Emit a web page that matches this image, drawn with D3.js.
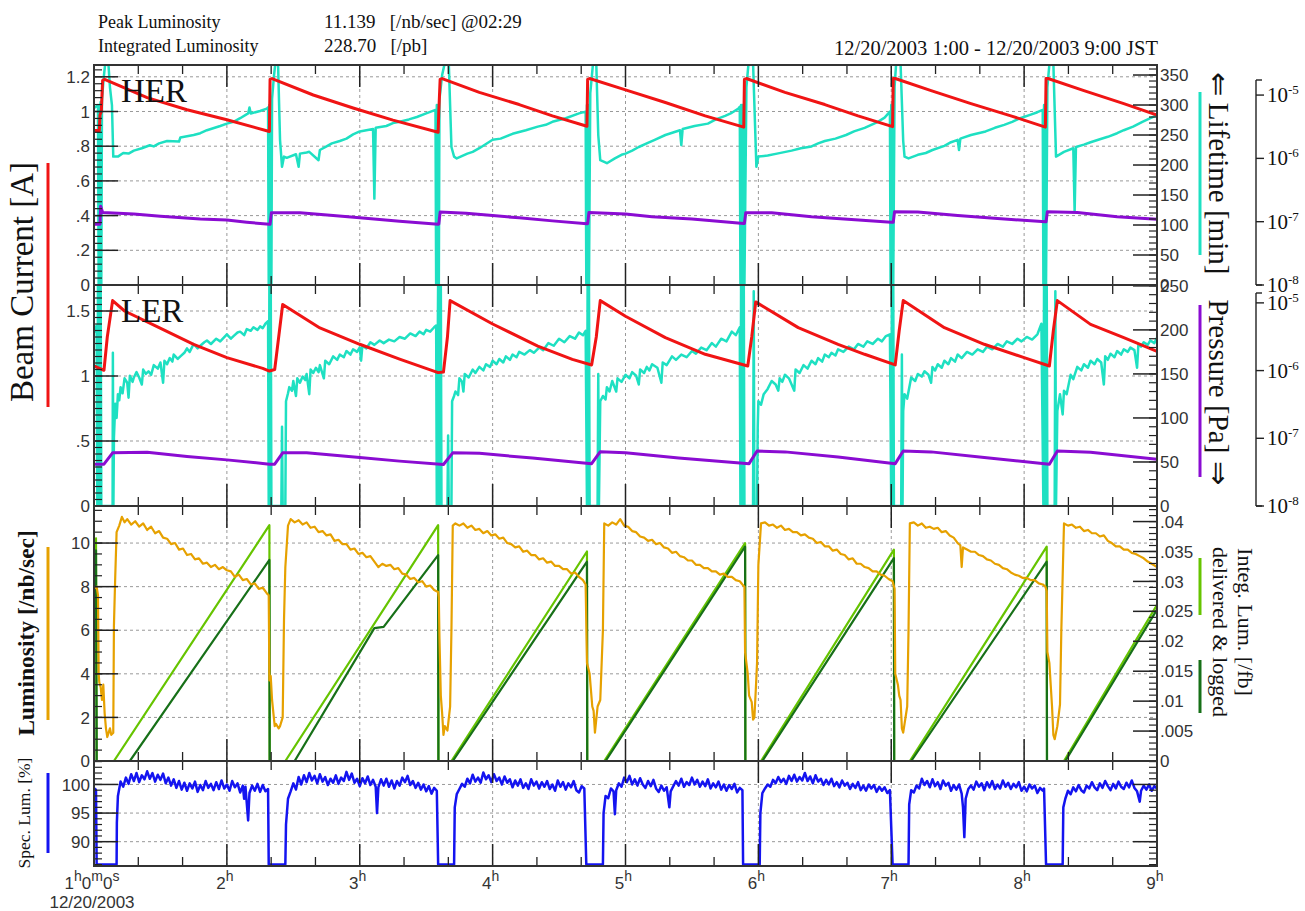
<!DOCTYPE html>
<html>
<head>
<meta charset="utf-8">
<script src="https://cdn.jsdelivr.net/npm/d3@7"></script>
<style>
body{margin:0;background:#fff;}
svg{display:block;}
.tl{font-family:"Liberation Sans",Arial,sans-serif;font-size:17px;fill:#333;}
.serif{font-family:"Liberation Serif","Times New Roman",serif;fill:#111;}
</style>
</head>
<body>
<svg id="chart" width="1305" height="911"></svg>
<script>
// ---- data (hour of day, value) ----
var hourTicks = [1,2,3,4,5,6,7,8,9];
var hourLabels = ["1h0m0s","2h","3h","4h","5h","6h","7h","8h","9h"];

var herCurrentTicks = [0,0.2,0.4,0.6,0.8,1,1.2];
var herLifetimeTicks = [0,50,100,150,200,250,300,350];
var lerCurrentTicks = [0,0.5,1,1.5];
var lerLifetimeTicks = [0,50,100,150,200,250];
var pressureTicks = [1e-8,1e-7,1e-6,1e-5];
var lumTicks = [0,2,4,6,8,10];
var integTicks = [0,0.005,0.01,0.015,0.02,0.025,0.03,0.035,0.04];
var specTicks = [90,95,100];

var herCurrent = [[1.0,0.89],[1.04,0.89],[1.045,0.98],[1.055,1.0],[1.065,1.18],[1.08,1.185],
 [1.4,1.08],[1.7,1.01],[2.0,0.952],[2.32,0.885],
 [2.325,1.185],[2.34,1.19],[2.65,1.095],[2.95,1.02],[3.25,0.95],[3.59,0.88],
 [3.595,1.0],[3.605,1.185],[3.62,1.19],[3.9,1.11],[4.2,1.04],[4.45,0.975],[4.71,0.915],
 [4.715,1.185],[4.73,1.19],[5.0,1.125],[5.3,1.052],[5.6,0.975],[5.89,0.91],
 [5.895,1.185],[5.91,1.19],[6.2,1.11],[6.5,1.04],[6.75,0.975],[7.01,0.913],
 [7.015,1.19],[7.03,1.19],[7.3,1.12],[7.6,1.045],[7.9,0.975],[8.16,0.91],
 [8.165,1.19],[8.18,1.19],[8.45,1.12],[8.75,1.045],[9.0,0.98]];

var herLifetime = [[1.0,295],[1.02,298],[1.03,300],[1.035,0],[1.04,300],[1.045,0],[1.05,305],[1.055,0],[1.06,310],
 [1.075,350],[1.09,380],[1.105,380],[1.12,330],[1.135,300],[1.145,214],[1.18,214],[1.22,220],[1.26,219],[1.3,224],
 [1.36,228],[1.42,233],[1.45,231],[1.49,236],[1.55,240],[1.64,239],[1.65,246],[1.75,250],[1.8,253],[1.85,258],
 [1.95,265],[2.0,269],[2.05,272],[2.1,278],[2.16,286],[2.17,296],[2.18,286],[2.25,290],[2.3,294],
 [2.31,296],[2.315,0],[2.32,300],[2.325,0],[2.33,300],[2.335,0],[2.34,310],[2.355,350],[2.37,380],[2.385,370],
 [2.40,242],[2.415,197],[2.43,214],[2.45,212],[2.52,218],[2.54,197],[2.55,219],[2.6,221],[2.62,222],[2.69,208],
 [2.70,225],[2.75,231],[2.79,236],[2.85,240],[2.9,244],[2.95,251],[3.0,256],[3.1,260],[3.11,144],[3.12,262],
 [3.2,265],[3.25,270],[3.3,272],[3.37,276],[3.43,280],[3.5,286],[3.57,292],
 [3.575,0],[3.58,300],[3.585,0],[3.59,300],[3.595,0],[3.6,310],[3.62,350],[3.65,380],[3.67,370],[3.69,230],
 [3.71,214],[3.73,211],[3.81,219],[3.85,222],[3.9,228],[3.95,235],[4.0,242],[4.06,244],[4.15,252],[4.25,258],
 [4.34,264],[4.4,267],[4.45,272],[4.55,278],[4.65,286],[4.7,289],
 [4.705,0],[4.71,300],[4.715,0],[4.72,300],[4.725,0],[4.735,320],[4.76,380],[4.78,370],[4.795,250],[4.81,208],
 [4.86,203],[4.92,211],[4.97,217],[5.0,219],[5.05,224],[5.1,230],[5.16,236],[5.22,242],[5.3,250],[5.41,258],
 [5.42,233],[5.43,260],[5.52,265],[5.62,269],[5.68,276],[5.75,282],[5.8,287],[5.85,294],[5.86,297],
 [5.865,0],[5.87,300],[5.875,0],[5.88,300],[5.885,0],[5.89,300],[5.895,0],[5.91,330],[5.93,380],[5.96,370],
 [5.985,197],[6.0,214],[6.07,216],[6.14,219],[6.25,224],[6.32,228],[6.4,231],[6.45,236],[6.5,240],[6.58,244],
 [6.66,250],[6.72,256],[6.8,262],[6.9,272],[6.95,279],[6.99,289],
 [6.995,0],[7.0,300],[7.005,0],[7.01,300],[7.015,0],[7.025,330],[7.04,380],[7.07,370],[7.09,240],[7.1,214],
 [7.13,211],[7.2,217],[7.26,220],[7.31,225],[7.4,232],[7.45,238],[7.5,242],[7.51,225],[7.52,244],[7.6,250],
 [7.71,256],[7.78,262],[7.85,267],[7.91,272],[7.97,278],[8.05,284],[8.1,288],[8.14,292],
 [8.145,0],[8.15,300],[8.155,0],[8.16,300],[8.165,0],[8.175,330],[8.195,380],[8.22,370],[8.24,214],[8.3,222],
 [8.37,228],[8.38,122],[8.39,230],[8.45,234],[8.5,238],[8.57,243],[8.63,247],[8.7,253],[8.75,258],[8.82,264],
 [8.89,272],[8.95,278],[9.0,283]];

var herPressure = [[1.0,9.1e-8],[1.045,9.1e-8],[1.05,1.75e-7],[1.065,1.4e-7],[1.3,1.32e-7],[1.5,1.22e-7],
 [1.8,1.1e-7],[2.0,1.06e-7],[2.15,9.8e-8],[2.32,9.1e-8],
 [2.325,9.1e-8],[2.335,1.38e-7],[2.55,1.38e-7],[2.8,1.25e-7],[3.0,1.15e-7],[3.3,1.02e-7],[3.59,9.1e-8],
 [3.595,9.2e-8],[3.605,1.42e-7],[3.8,1.36e-7],[4.0,1.25e-7],[4.2,1.15e-7],[4.45,1.03e-7],[4.71,9.3e-8],
 [4.715,9.3e-8],[4.725,1.4e-7],[5.0,1.32e-7],[5.2,1.2e-7],[5.5,1.1e-7],[5.89,9.4e-8],
 [5.895,9.4e-8],[5.905,1.39e-7],[6.1,1.38e-7],[6.4,1.2e-7],[6.7,1.08e-7],[7.0,9.8e-8],
 [7.015,9.8e-8],[7.025,1.44e-7],[7.2,1.42e-7],[7.5,1.25e-7],[7.8,1.12e-7],[8.16,1.0e-7],
 [8.165,1.0e-7],[8.175,1.44e-7],[8.4,1.4e-7],[8.7,1.2e-7],[9.0,1.09e-7]];

var lerCurrent = [[1.0,1.077],[1.075,1.044],[1.10,1.3],[1.14,1.58],[1.23,1.5],[1.49,1.372],[1.75,1.244],
 [2.0,1.141],[2.27,1.059],[2.32,1.038],
 [2.36,1.05],[2.42,1.55],[2.7,1.37],[3.0,1.244],[3.3,1.13],[3.59,1.026],
 [3.63,1.03],[3.66,1.3],[3.68,1.58],[4.0,1.40],[4.34,1.23],[4.6,1.128],[4.745,1.085],
 [4.78,1.3],[4.81,1.58],[5.0,1.46],[5.3,1.295],[5.6,1.167],[5.92,1.077],
 [5.95,1.3],[5.98,1.57],[6.3,1.372],[6.6,1.244],[6.8,1.167],[7.03,1.085],
 [7.06,1.35],[7.09,1.58],[7.4,1.372],[7.7,1.244],[8.0,1.141],[8.19,1.077],
 [8.22,1.35],[8.25,1.58],[8.5,1.397],[8.75,1.295],[9.0,1.19]];

var lerLifetime = [[1.0,197],[1.02,205],[1.025,0],[1.03,260],[1.035,0],[1.04,260],[1.045,0],[1.05,260],[1.055,0],
 [1.14,0],[1.142,174],[1.146,0],[1.15,78],[1.16,116],[1.17,100],[1.18,127],[1.19,120],[1.2,135],[1.215,128],[1.23,145],
 [1.25,140],[1.26,123],[1.27,148],[1.29,141],[1.3,146],[1.32,152],[1.34,146],[1.36,138],[1.37,155],[1.39,150],
 [1.41,153],[1.43,149],[1.45,160],[1.48,156],[1.5,163],[1.52,140],[1.53,165],[1.55,161],[1.57,168],[1.59,164],
 [1.6,172],[1.63,167],[1.65,170],[1.68,174],[1.7,179],[1.72,175],[1.75,184],[1.78,179],[1.8,182],[1.83,186],
 [1.85,188],[1.88,184],[1.92,190],[1.95,187],[2.0,195],[2.03,190],[2.05,193],[2.08,197],[2.1,198],[2.13,194],
 [2.15,201],[2.18,199],[2.2,203],[2.23,200],[2.25,204],[2.27,202],[2.29,207],[2.31,210],
 [2.315,0],[2.32,260],[2.325,0],[2.33,260],[2.335,0],[2.41,0],[2.415,90],[2.42,0],[2.44,0],[2.445,119],[2.46,128],
 [2.47,135],[2.49,131],[2.5,142],[2.52,125],[2.53,145],[2.55,140],[2.57,147],[2.59,143],[2.6,150],[2.62,127],
 [2.63,155],[2.65,151],[2.67,157],[2.69,152],[2.7,160],[2.73,145],[2.74,165],[2.77,161],[2.8,170],[2.83,166],
 [2.85,172],[2.88,169],[2.9,176],[2.93,172],[2.95,178],[2.98,175],[3.0,180],[3.01,165],[3.02,182],[3.05,179],
 [3.08,186],[3.11,183],[3.15,188],[3.18,185],[3.22,189],[3.26,187],[3.3,192],[3.34,190],[3.38,196],[3.42,193],
 [3.45,198],[3.48,195],[3.5,200],[3.53,198],[3.56,203],[3.575,205],
 [3.58,0],[3.59,260],[3.595,0],[3.60,260],[3.605,0],[3.61,260],[3.615,0],[3.66,0],[3.665,80],[3.67,0],[3.69,0],
 [3.695,119],[3.71,125],[3.72,130],[3.74,126],[3.75,145],[3.77,141],[3.78,130],[3.79,150],[3.82,146],[3.85,155],
 [3.87,151],[3.9,158],[3.93,154],[3.95,161],[3.98,158],[4.0,165],[4.03,161],[4.05,167],[4.08,163],[4.1,170],
 [4.13,166],[4.15,172],[4.18,169],[4.2,175],[4.24,172],[4.28,177],[4.31,174],[4.35,180],[4.38,177],[4.42,185],
 [4.46,182],[4.5,190],[4.54,186],[4.58,193],[4.62,190],[4.65,197],[4.68,194],[4.7,199],
 [4.71,0],[4.715,260],[4.72,0],[4.725,260],[4.73,0],[4.79,0],[4.795,150],[4.80,0],[4.81,119],[4.83,125],
 [4.85,121],[4.86,135],[4.88,130],[4.9,142],[4.93,130],[4.94,145],[4.97,141],[5.0,149],[5.03,145],[5.05,152],
 [5.08,148],[5.1,138],[5.11,155],[5.14,151],[5.16,158],[5.18,154],[5.2,161],[5.24,157],[5.27,140],[5.28,163],
 [5.31,160],[5.35,170],[5.38,166],[5.42,172],[5.46,169],[5.5,176],[5.53,173],[5.57,180],[5.61,177],[5.65,185],
 [5.68,181],[5.72,190],[5.76,187],[5.8,198],[5.83,194],[5.86,203],
 [5.865,0],[5.87,260],[5.875,0],[5.88,260],[5.885,0],[5.89,260],[5.895,0],[5.96,0],[5.965,244],[5.97,0],[5.99,0],
 [5.995,89],[6.0,119],[6.02,115],[6.04,127],[6.07,133],[6.1,142],[6.13,138],[6.15,131],[6.16,145],[6.18,141],
 [6.2,149],[6.23,145],[6.27,131],[6.28,155],[6.31,151],[6.34,160],[6.37,156],[6.4,165],[6.43,161],[6.45,168],
 [6.48,164],[6.5,172],[6.53,169],[6.55,174],[6.58,171],[6.6,178],[6.64,175],[6.68,181],[6.72,178],[6.75,184],
 [6.79,181],[6.82,187],[6.86,184],[6.9,190],[6.93,187],[6.96,193],[6.99,195],
 [7.0,0],[7.005,260],[7.01,0],[7.015,260],[7.02,0],[7.075,0],[7.08,172],[7.085,0],[7.09,108],[7.1,127],
 [7.12,122],[7.15,146],[7.18,142],[7.2,150],[7.23,147],[7.25,153],[7.28,149],[7.3,140],[7.31,158],[7.33,154],
 [7.35,161],[7.38,157],[7.4,165],[7.43,161],[7.45,168],[7.48,164],[7.5,172],[7.53,168],[7.57,175],[7.61,172],
 [7.65,178],[7.69,175],[7.72,181],[7.76,178],[7.8,184],[7.84,181],[7.87,187],[7.91,184],[7.95,190],[7.98,187],
 [8.02,192],[8.06,189],[8.1,195],[8.13,207],
 [8.145,0],[8.15,260],[8.155,0],[8.16,260],[8.165,0],[8.17,260],[8.175,0],[8.23,0],[8.235,244],[8.24,0],
 [8.25,108],[8.27,127],[8.29,104],[8.3,131],[8.32,127],[8.35,149],[8.37,144],[8.4,158],[8.43,154],[8.45,161],
 [8.48,157],[8.5,165],[8.53,161],[8.55,167],[8.58,163],[8.6,138],[8.61,170],[8.63,166],[8.65,173],[8.68,169],
 [8.7,176],[8.73,172],[8.75,178],[8.78,175],[8.8,180],[8.83,177],[8.85,157],[8.86,184],[8.88,181],[8.9,186],
 [8.93,183],[8.95,188],[8.98,185],[9.0,191]];

var lerPressure = [[1.0,4.15e-8],[1.075,4.15e-8],[1.14,6.1e-8],[1.4,6.2e-8],[1.7,5.4e-8],[2.0,4.8e-8],
 [2.32,4.15e-8],[2.36,4.15e-8],[2.42,6.1e-8],[2.6,6.1e-8],[3.0,5.2e-8],[3.3,4.6e-8],[3.63,4.1e-8],
 [3.7,6.1e-8],[3.9,6.0e-8],[4.3,5.1e-8],[4.745,4.22e-8],[4.81,6.34e-8],[5.0,6.1e-8],[5.4,5.1e-8],
 [5.93,4.22e-8],[5.99,6.49e-8],[6.2,6.3e-8],[6.6,5.3e-8],[7.03,4.22e-8],[7.09,6.49e-8],[7.3,6.3e-8],
 [7.7,5.2e-8],[8.19,4.13e-8],[8.25,6.49e-8],[8.5,6.2e-8],[9.0,4.9e-8]];

var luminosity = [[1.0,7.9],[1.02,8.0],[1.03,7.6],[1.035,4.0],[1.04,3.6],[1.05,3.4],[1.06,2.8],[1.07,3.5],
 [1.08,2.2],[1.09,1.5],[1.1,1.1],[1.12,1.5],[1.13,1.2],[1.145,1.3],[1.15,6.2],[1.16,8.5],
 [1.17,10.5],[1.19,10.8],[1.21,11.2],[1.23,10.95],[1.25,11.1],[1.28,10.85],[1.31,11.0],[1.34,10.75],[1.37,10.9],
 [1.40,10.6],[1.43,10.75],[1.46,10.45],[1.49,10.55],[1.52,10.25],[1.55,10.2],[1.58,9.95],[1.61,10.0],[1.64,9.7],
 [1.67,9.75],[1.70,9.45],[1.73,9.5],[1.76,9.25],[1.79,9.3],[1.82,9.05],[1.85,9.1],[1.88,8.9],[1.91,9.0],[1.94,8.8],
 [1.97,8.9],[2.00,8.75],[2.03,8.7],[2.06,8.45],[2.09,8.55],[2.12,8.3],[2.15,8.35],[2.18,8.1],[2.21,8.15],[2.24,7.9],
 [2.27,7.95],[2.30,7.7],
 [2.315,7.6],[2.32,3.7],[2.33,3.9],[2.34,2.8],[2.36,1.6],[2.37,1.7],[2.39,1.5],[2.40,1.6],[2.42,2.0],[2.43,6.5],
 [2.44,8.9],[2.46,10.8],[2.48,11.1],[2.51,10.95],[2.54,11.05],[2.57,10.85],[2.60,10.95],[2.63,10.7],[2.66,10.75],
 [2.69,10.5],[2.72,10.55],[2.75,10.35],[2.78,10.4],[2.81,10.1],[2.84,10.15],[2.87,9.95],[2.90,9.95],[2.93,9.7],
 [2.96,9.75],[2.99,9.5],[3.02,9.55],[3.05,9.35],[3.08,9.4],[3.11,9.15],[3.14,8.9],[3.17,9.05],[3.20,8.95],
 [3.23,9.0],[3.26,8.8],[3.29,8.85],[3.32,8.6],[3.35,8.55],[3.38,8.35],[3.41,8.4],[3.44,8.2],[3.47,8.25],[3.50,8.0],
 [3.53,8.05],[3.56,7.85],[3.59,7.75],
 [3.595,7.5],[3.6,5.6],[3.61,3.0],[3.62,2.2],[3.63,1.2],[3.64,1.6],[3.66,1.4],[3.68,2.5],[3.69,6],
 [3.70,10.8],[3.72,10.9],[3.75,10.8],[3.78,10.9],[3.81,10.7],[3.84,10.8],[3.87,10.6],[3.90,10.65],[3.93,10.45],
 [3.96,10.55],[3.99,10.35],[4.02,10.4],[4.05,10.2],[4.08,10.25],[4.11,10.0],[4.14,9.95],[4.17,9.8],[4.20,9.85],
 [4.23,9.6],[4.26,9.65],[4.29,9.45],[4.32,9.45],[4.35,9.25],[4.38,9.3],[4.41,9.1],[4.44,9.15],[4.47,8.95],
 [4.50,8.95],[4.53,8.8],[4.56,8.8],[4.59,8.6],[4.62,8.65],[4.65,8.45],[4.68,8.3],[4.70,8.1],
 [4.71,4.5],[4.73,4.0],[4.75,2.5],[4.76,2.3],[4.77,1.3],[4.79,2.5],[4.81,2.8],[4.83,6],
 [4.84,10.9],[4.87,10.8],[4.90,10.95],[4.93,10.85],[4.96,11.1],[4.99,10.8],[5.02,10.75],[5.05,10.55],[5.08,10.5],
 [5.11,10.3],[5.14,10.25],[5.17,10.1],[5.20,10.15],[5.23,9.95],[5.26,10.0],[5.29,9.8],[5.32,9.75],[5.35,9.55],
 [5.38,9.6],[5.41,9.4],[5.44,9.35],[5.47,9.2],[5.50,9.2],[5.53,9.0],[5.56,9.0],[5.59,8.85],[5.62,8.85],[5.65,8.7],
 [5.68,8.7],[5.71,8.55],[5.74,8.6],[5.77,8.45],[5.80,8.45],[5.83,8.3],[5.86,8.25],[5.88,8.1],
 [5.895,8.0],[5.9,5.0],[5.92,4.0],[5.93,3.0],[5.95,2.7],[5.96,1.9],[5.97,2.0],[5.98,3.2],[5.99,4.5],[6.0,9.0],
 [6.02,10.9],[6.05,10.95],[6.08,10.8],[6.11,10.85],[6.14,10.7],[6.17,10.8],[6.20,10.6],[6.23,10.65],[6.26,10.5],
 [6.29,10.5],[6.32,10.35],[6.35,10.4],[6.38,10.25],[6.41,10.2],[6.44,10.0],[6.47,10.05],[6.50,9.85],[6.53,9.85],
 [6.56,9.65],[6.59,9.7],[6.62,9.5],[6.65,9.45],[6.68,9.25],[6.71,9.3],[6.74,9.05],[6.77,9.05],[6.80,8.9],
 [6.83,8.85],[6.86,8.7],[6.89,8.7],[6.92,8.55],[6.95,8.5],[6.98,8.35],[7.01,8.25],
 [7.025,7.9],[7.03,4.0],[7.05,3.5],[7.06,3.0],[7.07,2.8],[7.08,1.5],[7.09,1.3],[7.1,1.7],[7.12,2.5],[7.13,6],
 [7.14,10.9],[7.17,10.95],[7.20,10.8],[7.23,10.9],[7.26,10.7],[7.29,10.75],[7.32,10.65],[7.35,10.7],[7.38,10.5],
 [7.41,10.55],[7.44,10.35],[7.47,10.25],[7.50,10.0],[7.52,9.9],[7.53,8.9],[7.54,9.8],[7.57,9.7],[7.60,9.6],
 [7.63,9.6],[7.66,9.45],[7.69,9.4],[7.72,9.25],[7.75,9.2],[7.78,9.05],[7.81,9.0],[7.84,8.85],[7.87,8.8],
 [7.90,8.65],[7.93,8.55],[7.96,8.5],[7.99,8.4],[8.02,8.4],[8.05,8.3],[8.08,8.3],[8.11,8.15],[8.14,8.1],[8.16,8.0],
 [8.17,7.8],[8.175,5.0],[8.19,4.5],[8.2,3.5],[8.21,2.5],[8.22,1.2],[8.23,1.0],[8.25,1.6],[8.27,2.6],[8.28,6],
 [8.30,10.9],[8.33,10.8],[8.36,10.85],[8.39,10.7],[8.42,10.75],[8.45,10.55],[8.48,10.6],[8.51,10.45],[8.54,10.45],
 [8.57,10.3],[8.60,10.35],[8.63,10.1],[8.66,10.0],[8.69,9.85],[8.72,9.85],[8.75,9.7],[8.78,9.7],[8.81,9.55],
 [8.84,9.5],[8.87,9.4],[8.90,9.3],[8.93,9.15],[8.96,9.05],[9.0,8.9]];

var integDelivered = [[1.0,0.0366],[1.015,0.0372],[1.02,0],[1.15,0],[2.32,0.0394],[2.322,0],[2.44,0],
 [3.59,0.0394],[3.592,0],[3.69,0],[4.71,0.035],[4.712,0],[4.84,0],[5.9,0.0364],[5.902,0],[6.02,0],
 [7.02,0.0353],[7.022,0],[7.14,0],[8.17,0.0358],[8.172,0],[8.30,0],[9.0,0.0261]];

var integLogged = [[1.0,0.0347],[1.015,0.0352],[1.02,0],[1.27,0],[2.32,0.0336],[2.322,0],[2.51,0],
 [3.11,0.0222],[3.18,0.0224],[3.59,0.0344],[3.592,0],[3.70,0],[4.71,0.0333],[4.712,0],[4.85,0],
 [5.9,0.0358],[5.902,0],[6.03,0],[7.02,0.0339],[7.022,0],[7.15,0],[8.17,0.0333],[8.172,0],[8.31,0],[9.0,0.0253]];

var specLum = [[1.0,98.6],[1.01,99.2],[1.015,99.0],[1.02,86],[1.17,86],[1.172,93.3],
 [1.18,98],[1.2,100.5],[1.22,99.6],[1.24,101.2],[1.26,100.1],[1.28,101.8],[1.30,100.6],[1.32,102.0],[1.34,100.4],
 [1.36,101.6],[1.38,100.9],[1.40,102.3],[1.42,101.0],[1.44,102.0],[1.46,100.5],[1.48,101.7],[1.50,100.8],[1.52,101.9],
 [1.54,100.2],[1.56,101.2],[1.58,99.8],[1.60,100.9],[1.62,99.4],[1.64,100.6],[1.66,99.1],[1.68,100.3],[1.70,98.9],
 [1.72,100.2],[1.74,99.3],[1.76,100.5],[1.78,98.7],[1.80,99.9],[1.82,99.0],[1.84,100.6],[1.86,99.4],[1.88,100.1],
 [1.90,99.0],[1.92,100.4],[1.94,99.2],[1.96,100.7],[1.98,99.3],[2.00,100.0],[2.02,98.9],[2.04,100.6],[2.06,99.5],
 [2.08,100.2],[2.10,98.6],[2.12,99.8],[2.13,97.5],[2.14,99.6],[2.16,93.7],[2.17,98.5],[2.19,99.8],[2.21,98.9],
 [2.23,100.1],[2.25,98.7],[2.27,99.9],[2.29,98.8],[2.31,99.2],
 [2.315,86],[2.44,86],[2.445,93],[2.46,97.5],[2.48,98.8],[2.50,100.2],[2.52,99.1],[2.54,101.3],[2.56,100.0],
 [2.58,101.6],[2.60,100.4],[2.62,102.0],[2.64,100.7],[2.66,101.5],[2.68,100.2],[2.70,101.8],[2.72,100.5],[2.74,101.3],
 [2.76,99.9],[2.78,101.0],[2.80,100.3],[2.82,101.6],[2.84,100.1],[2.86,101.2],[2.88,100.6],[2.90,102.2],[2.92,100.8],
 [2.94,101.9],[2.96,100.3],[2.98,101.0],[3.00,99.7],[3.02,101.1],[3.04,100.2],[3.06,101.4],[3.08,99.9],[3.10,100.8],
 [3.12,99.6],[3.13,95.0],[3.14,99.5],[3.16,100.9],[3.18,99.8],[3.20,101.0],[3.22,99.6],[3.24,100.7],[3.26,99.3],
 [3.28,100.6],[3.30,99.8],[3.32,101.2],[3.34,100.4],[3.36,101.5],[3.38,99.9],[3.40,100.6],[3.42,99.4],[3.44,100.3],
 [3.46,99.1],[3.48,100.0],[3.50,98.8],[3.52,99.7],[3.54,98.4],[3.56,99.4],[3.58,98.9],
 [3.59,86],[3.71,86],[3.715,96],[3.73,98.3],[3.75,99.2],[3.77,100.1],[3.79,99.6],[3.81,101.0],[3.83,100.2],
 [3.85,101.7],[3.87,100.5],[3.89,101.2],[3.91,100.3],[3.93,102.1],[3.95,100.9],[3.97,101.6],[3.99,100.4],[4.01,101.8],
 [4.03,100.6],[4.05,101.2],[4.07,100.0],[4.09,101.4],[4.11,100.3],[4.13,100.9],[4.15,99.5],[4.17,100.7],[4.19,99.8],
 [4.21,100.9],[4.23,99.4],[4.25,100.2],[4.27,99.2],[4.29,100.9],[4.31,99.8],[4.33,100.5],[4.35,99.3],[4.37,100.4],
 [4.39,99.6],[4.41,100.6],[4.43,99.2],[4.45,100.0],[4.47,98.9],[4.49,100.7],[4.51,99.6],[4.53,100.4],[4.55,99.1],
 [4.57,100.2],[4.59,99.5],[4.61,100.6],[4.63,99.0],[4.65,98.6],[4.67,99.7],[4.69,99.3],
 [4.705,86],[4.83,86],[4.835,95],[4.85,98],[4.87,97.6],[4.89,99.3],[4.91,98.8],[4.92,94.8],[4.93,99.0],[4.95,100.2],
 [4.97,99.6],[4.99,101.2],[5.01,100.4],[5.03,101.5],[5.05,100.0],[5.07,100.9],[5.09,99.8],[5.11,101.1],[5.13,100.0],
 [5.15,99.4],[5.17,100.6],[5.19,99.7],[5.21,100.8],[5.23,99.3],[5.25,98.7],[5.27,99.8],[5.29,98.9],[5.31,99.5],
 [5.33,96.0],[5.34,98.8],[5.36,99.7],[5.38,100.6],[5.40,99.8],[5.42,101.0],[5.44,99.6],[5.46,100.4],[5.48,99.9],
 [5.50,101.2],[5.52,100.0],[5.54,100.8],[5.56,99.6],[5.58,100.5],[5.60,99.7],[5.62,100.9],[5.64,99.3],[5.66,100.2],
 [5.68,99.5],[5.70,100.5],[5.72,99.1],[5.74,100.0],[5.76,98.9],[5.78,99.9],[5.80,99.2],[5.82,100.1],[5.84,98.6],
 [5.86,99.4],[5.88,99.0],
 [5.885,86],[6.01,86],[6.015,95],[6.03,98.5],[6.05,99.3],[6.07,100.0],[6.09,99.6],[6.11,100.8],[6.13,100.2],
 [6.15,101.3],[6.17,100.4],[6.19,101.0],[6.21,100.1],[6.23,101.5],[6.25,100.6],[6.27,101.7],[6.29,100.5],[6.31,101.3],
 [6.33,100.7],[6.35,102.0],[6.37,100.6],[6.39,101.4],[6.41,100.2],[6.43,101.6],[6.45,100.5],[6.47,101.0],[6.49,99.9],
 [6.51,100.8],[6.53,100.0],[6.55,101.0],[6.57,99.7],[6.59,100.4],[6.61,99.5],[6.63,100.7],[6.65,99.8],[6.67,100.3],
 [6.69,99.2],[6.71,100.1],[6.73,99.4],[6.75,100.4],[6.77,99.0],[6.79,99.8],[6.81,98.9],[6.83,100.0],[6.85,99.3],
 [6.87,99.9],[6.89,98.7],[6.91,99.6],[6.93,98.9],[6.95,99.5],[6.97,98.5],[6.99,99.0],
 [7.01,86],[7.13,86],[7.135,96.5],[7.15,99.0],[7.17,98.6],[7.19,99.8],[7.21,99.3],[7.23,101.0],[7.25,99.9],
 [7.27,100.6],[7.29,99.5],[7.31,100.9],[7.33,99.7],[7.35,100.4],[7.37,99.2],[7.39,100.7],[7.41,99.8],[7.43,100.3],
 [7.45,98.9],[7.47,99.9],[7.49,99.1],[7.51,100.0],[7.53,98.4],[7.54,96.0],[7.55,90.8],[7.56,97.5],[7.58,99.2],
 [7.60,99.8],[7.62,99.1],[7.64,100.5],[7.66,99.6],[7.68,100.2],[7.70,99.0],[7.72,100.4],[7.74,99.5],[7.76,100.6],
 [7.78,99.2],[7.80,100.0],[7.82,99.3],[7.84,100.7],[7.86,99.6],[7.88,100.3],[7.90,99.2],[7.92,100.1],[7.94,99.5],
 [7.96,100.4],[7.98,98.9],[8.00,99.6],[8.02,98.8],[8.04,100.0],[8.06,99.3],[8.08,99.8],[8.10,98.5],[8.12,99.4],
 [8.14,98.9],[8.15,99.3],
 [8.165,86],[8.29,86],[8.295,96],[8.31,97.5],[8.33,98.9],[8.35,98.3],[8.37,99.5],[8.39,98.8],[8.41,99.9],[8.43,99.0],
 [8.45,98.6],[8.47,99.8],[8.49,99.3],[8.51,100.4],[8.53,99.5],[8.55,99.0],[8.57,100.2],[8.59,99.4],[8.61,100.6],
 [8.63,99.7],[8.65,99.0],[8.67,100.1],[8.69,99.3],[8.71,100.5],[8.73,99.6],[8.75,99.2],[8.77,100.3],[8.79,99.5],
 [8.81,100.7],[8.83,99.4],[8.85,98.8],[8.87,97.0],[8.88,98.9],[8.90,99.8],[8.92,99.1],[8.94,100.0],[8.96,98.9],
 [8.98,99.7],[9.00,99.3]];

// ---- layout ----
var X0 = 94, X1 = 1157;
var svg = d3.select("#chart");
var x = d3.scaleLinear().domain([1,9]).range([X0,X1]);

var panels = [
  {id:"her",  top:65,  bottom:285},
  {id:"ler",  top:285, bottom:506},
  {id:"lum",  top:506, bottom:761},
  {id:"spec", top:761, bottom:866}
];

var yHerCur  = d3.scaleLinear().domain([0,1.268]).range([285,65]);
var yHerLife = d3.scaleLinear().domain([0,366.7]).range([285,65]);
var yHerPres = d3.scaleLog().domain([1e-8,Math.pow(10,-4.525)]).range([285,65]);
var yLerCur  = d3.scaleLinear().domain([0,1.7]).range([506,285]);
var yLerLife = d3.scaleLinear().domain([0,251]).range([506,285]);
var yLerPres = d3.scaleLog().domain([1e-8,Math.pow(10,-4.736)]).range([506,285]);
var yLum     = d3.scaleLinear().domain([0,11.7]).range([761,506]);
var yInteg   = d3.scaleLinear().domain([0,0.0426]).range([761,506]);
var ySpec    = d3.scaleLinear().domain([85.75,104.1]).range([866,761]);

function fmtNum(v){
  if (v === 0) return "0";
  return String(+v.toFixed(4)).replace(/^0\./,".");
}

var defs = svg.append("defs");
panels.forEach(function(p){
  defs.append("clipPath").attr("id","clip-"+p.id).append("rect")
    .attr("x",X0).attr("y",p.top).attr("width",X1-X0).attr("height",p.bottom-p.top);
});

var gridG = svg.append("g");
var dataG = svg.append("g");
var axisG = svg.append("g");

// vertical grid + time ticks on every panel edge
panels.forEach(function(p){
  gridG.selectAll(null).data(hourTicks.slice(1,-1)).enter().append("line")
    .attr("x1",function(d){return x(d);}).attr("x2",function(d){return x(d);})
    .attr("y1",p.top).attr("y2",p.bottom)
    .attr("stroke","#999").attr("stroke-width",1).attr("stroke-dasharray","3,3");

  var minors = d3.range(0,25).map(function(i){return 1+i/3;}).filter(function(h){return Math.abs(h-Math.round(h))>0.01;});
  [p.top,p.bottom].forEach(function(edge,k){
    var dir = k==0 ? 1 : -1;
    axisG.selectAll(null).data(minors).enter().append("line")
      .attr("x1",function(d){return x(d);}).attr("x2",function(d){return x(d);})
      .attr("y1",edge).attr("y2",edge+dir*9)
      .attr("stroke","#222").attr("stroke-width",1.3);
    axisG.selectAll(null).data(hourTicks.slice(1,-1)).enter().append("line")
      .attr("x1",function(d){return x(d);}).attr("x2",function(d){return x(d);})
      .attr("y1",edge).attr("y2",edge+dir*22)
      .attr("stroke","#222").attr("stroke-width",1.5);
  });
});

// one y axis: ticks, labels and optional grid
function yAxis(scale, majors, minors, side, opts){
  var ax = side=="left" ? X0 : X1, dir = side=="left" ? 1 : -1;
  var top = scale.range()[1], bot = scale.range()[0];
  axisG.selectAll(null).data(minors).enter().append("line")
    .attr("x1",ax).attr("x2",ax+dir*8)
    .attr("y1",function(d){return scale(d);}).attr("y2",function(d){return scale(d);})
    .attr("stroke","#222").attr("stroke-width",1.2);
  axisG.selectAll(null).data(majors).enter().append("line")
    .attr("x1",ax).attr("x2",ax+dir*24)
    .attr("y1",function(d){return scale(d);}).attr("y2",function(d){return scale(d);})
    .attr("stroke","#222").attr("stroke-width",1.5);
  if (opts.grid){
    gridG.selectAll(null).data(majors.filter(function(d){return scale(d)>top+1 && scale(d)<bot-1;})).enter().append("line")
      .attr("x1",X0).attr("x2",X1)
      .attr("y1",function(d){return scale(d);}).attr("y2",function(d){return scale(d);})
      .attr("stroke","#999").attr("stroke-width",1).attr("stroke-dasharray","3,3");
  }
  if (opts.labels !== false){
    axisG.selectAll(null).data(majors).enter().append("text")
      .attr("class","tl")
      .attr("x",side=="left" ? ax-4 : ax+3)
      .attr("y",function(d){return scale(d);}).attr("dy","0.36em")
      .attr("text-anchor",side=="left" ? "end" : "start")
      .text(fmtNum);
  }
}

yAxis(yHerCur, herCurrentTicks, d3.range(0,1.265,0.04), "left", {grid:true});
yAxis(yHerLife, herLifetimeTicks, d3.range(0,366,10), "right", {});
yAxis(yLerCur, lerCurrentTicks, d3.range(0,1.7,0.05), "left", {grid:true});
yAxis(yLerLife, lerLifetimeTicks, d3.range(0,251,10), "right", {});
yAxis(yLum, lumTicks, d3.range(0,11.6,0.5), "left", {grid:true});
yAxis(yInteg, integTicks, d3.range(0,0.0425,0.001), "right", {});
yAxis(ySpec, specTicks, d3.range(86,104.1,1), "left", {grid:true});
yAxis(ySpec, specTicks, d3.range(86,104.1,1), "right", {labels:false});

// panel frames
panels.forEach(function(p){
  axisG.append("rect").attr("x",X0).attr("y",p.top).attr("width",X1-X0).attr("height",p.bottom-p.top)
    .attr("fill","none").attr("stroke","#333").attr("stroke-width",2);
});

// data lines
function drawLine(clip, data, y, color, w){
  dataG.append("path").datum(data)
    .attr("clip-path","url(#clip-"+clip+")")
    .attr("fill","none").attr("stroke",color).attr("stroke-width",w)
    .attr("stroke-linejoin","round")
    .attr("d",d3.line().x(function(d){return x(d[0]);}).y(function(d){return y(d[1]);}));
}
var cRed="#f01414", cTurq="#1ee0c2", cPurp="#8a0cd2", cOrange="#e6a100", cLight="#66c400", cDark="#177018", cBlue="#1414f0";

drawLine("her", herLifetime, yHerLife, cTurq, 2.5);
drawLine("her", herPressure, yHerPres, cPurp, 3);
drawLine("her", herCurrent, yHerCur, cRed, 3);
drawLine("ler", lerLifetime, yLerLife, cTurq, 2.5);
drawLine("ler", lerPressure, yLerPres, cPurp, 3);
drawLine("ler", lerCurrent, yLerCur, cRed, 3);
drawLine("lum", integDelivered, yInteg, cLight, 2.2);
drawLine("lum", integLogged, yInteg, cDark, 2.2);
drawLine("lum", luminosity, yLum, cOrange, 2.2);
drawLine("spec", specLum, ySpec, cBlue, 2.5);

// pressure log axes, far right
function pressureAxis(scale, yTop, yBot){
  var ax = 1256;
  axisG.append("line").attr("x1",ax).attr("x2",ax).attr("y1",yTop).attr("y2",yBot).attr("stroke","#222").attr("stroke-width",1.4);
  axisG.selectAll(null).data([yTop,yBot]).enter().append("line")
    .attr("x1",ax).attr("x2",ax+6).attr("y1",function(d){return d;}).attr("y2",function(d){return d;})
    .attr("stroke","#222").attr("stroke-width",1.4);
  axisG.selectAll(null).data(pressureTicks).enter().append("line")
    .attr("x1",ax).attr("x2",ax+8).attr("y1",function(d){return scale(d);}).attr("y2",function(d){return scale(d);})
    .attr("stroke","#222").attr("stroke-width",1.4);
  var t = axisG.selectAll(null).data(pressureTicks).enter().append("text")
    .attr("class","serif").attr("x",ax+11).attr("y",function(d){return scale(d)+7;})
    .attr("font-size",21);
  t.append("tspan").text("10");
  t.append("tspan").attr("dy",-8).attr("font-size",13).text(function(d){return Math.round(Math.log10(d));});
}
pressureAxis(yHerPres, 80, 285);
pressureAxis(yLerPres, 293, 506);

// text with superscripts
function supText(g, px, py, str, size, sup, anchor){
  var t = g.append("text").attr("x",px).attr("y",py).attr("text-anchor",anchor)
    .attr("class","tl").attr("font-size",size);
  var prevSup = false;
  str.match(/\d+|[a-z]+/g).forEach(function(s){
    var isSup = /[a-z]/.test(s);
    var ts = t.append("tspan").text(s);
    if (isSup) ts.attr("font-size",sup);
    if (isSup && !prevSup) ts.attr("dy",-8);
    if (!isSup && prevSup) ts.attr("dy",8);
    prevSup = isSup;
  });
}
hourTicks.forEach(function(h,i){
  supText(axisG, x(h)-2, 889, hourLabels[i], 20, 14, "middle");
});
axisG.append("text").attr("class","tl").attr("font-size",19).attr("x",92).attr("y",908)
  .attr("text-anchor","middle").text("12/20/2003");

// header
var hdr = svg.append("g").attr("class","serif").attr("font-size",18).attr("fill","#222");
hdr.append("text").attr("x",98).attr("y",28).text("Peak Luminosity");
hdr.append("text").attr("x",324).attr("y",28).attr("xml:space","preserve").attr("font-size",19).text("11.139   [/nb/sec] @02:29");
hdr.append("text").attr("x",98).attr("y",52).text("Integrated Luminosity");
hdr.append("text").attr("x",324).attr("y",52).attr("xml:space","preserve").attr("font-size",19).text("228.70   [/pb]");
hdr.append("text").attr("x",1158).attr("y",55).attr("text-anchor","end").attr("font-size",20.5).text("12/20/2003 1:00 - 12/20/2003 9:00 JST");

// ring names
svg.append("text").attr("class","serif").attr("font-size",33).attr("x",121).attr("y",102).text("HER");
svg.append("text").attr("class","serif").attr("font-size",33).attr("x",121).attr("y",322).text("LER");

// axis titles with colour keys
function vTitle(cx, cy, rot, str, size, weight){
  svg.append("text").attr("class","serif")
    .attr("transform","translate("+cx+","+cy+") rotate("+rot+")")
    .attr("text-anchor","middle").attr("dominant-baseline","central")
    .attr("font-size",size).attr("font-weight",weight||"normal").text(str);
}
function key(kx, y1, y2, color){
  svg.append("line").attr("x1",kx).attr("x2",kx).attr("y1",y1).attr("y2",y2)
    .attr("stroke",color).attr("stroke-width",3);
}
vTitle(22, 282, -90, "Beam Current [A]", 33);
key(48, 163, 407, cRed);
vTitle(1219, 173, 90, "\u21D0 Lifetime [min]", 29);
key(1200, 92, 255, cTurq);
vTitle(1219, 392, 90, "Pressure [Pa] \u21D2", 29);
key(1200, 305, 477, cPurp);
vTitle(26, 633, -90, "Luminosity [/nb/sec]", 23.5, "bold");
key(48, 547, 720, cOrange);
vTitle(24, 813, -90, "Spec. Lum. [%]", 17.5);
key(48, 773, 853, cBlue);
vTitle(1245, 622, 90, "Integ. Lum. [/fb]", 22);
vTitle(1220, 632, 90, "delivered & logged", 22);
key(1200, 558, 615, cLight);
key(1200, 660, 713, cDark);
</script>
</body>
</html>
